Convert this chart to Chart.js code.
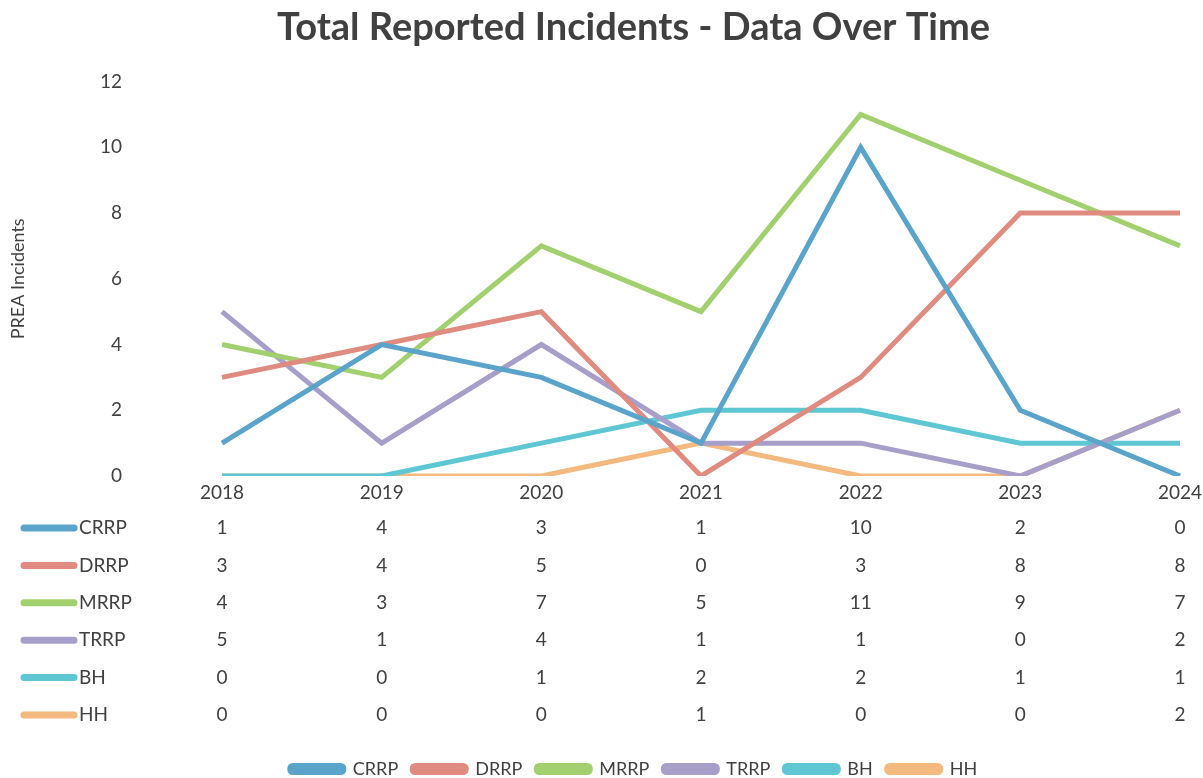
<!DOCTYPE html>
<html>
<head>
<meta charset="utf-8">
<script src="https://cdn.jsdelivr.net/npm/chart.js@4"></script>
<style>
  body { margin: 0; background: #fff; }
  #wrap { width: 1203px; height: 778px; }
</style>
</head>
<body>
<div id="wrap"><canvas id="incidentsChart"></canvas></div>
<script>
const years = ["2018", "2019", "2020", "2021", "2022", "2023", "2024"];
const crrp = [1, 4, 3, 1, 10, 2, 0];
const drrp = [3, 4, 5, 0, 3, 8, 8];
const mrrp = [4, 3, 7, 5, 11, 9, 7];
const trrp = [5, 1, 4, 1, 1, 0, 2];
const bh = [0, 0, 1, 2, 2, 1, 1];
const hh = [0, 0, 0, 1, 0, 0, 2];
const yTicks = [0, 2, 4, 6, 8, 10, 12];

const FONT = "Lato, 'Open Sans', sans-serif";
const TEXT = "#404040";

const series = [
  { label: "CRRP", data: crrp, color: "#5aa3cb" },
  { label: "DRRP", data: drrp, color: "#df8b7f" },
  { label: "MRRP", data: mrrp, color: "#a3d06f" },
  { label: "TRRP", data: trrp, color: "#a79fc9" },
  { label: "BH", data: bh, color: "#5ec7d3" },
  { label: "HH", data: hh, color: "#f4b97e" }
];

// draws the data table under the x axis, one row per series
const dataTable = {
  id: "dataTable",
  afterDraw(chart) {
    const { ctx, chartArea, scales } = chart;
    ctx.save();
    ctx.textBaseline = "middle";
    series.forEach((s, i) => {
      const y = chartArea.bottom + 52 + i * 37.4;
      ctx.strokeStyle = s.color;
      ctx.lineWidth = 7;
      ctx.lineCap = "round";
      ctx.beginPath();
      ctx.moveTo(24, y);
      ctx.lineTo(74, y);
      ctx.stroke();
      ctx.fillStyle = TEXT;
      ctx.font = `19px ${FONT}`;
      ctx.textAlign = "left";
      ctx.fillText(s.label, 79, y);
      ctx.textAlign = "center";
      s.data.forEach((v, j) => {
        ctx.fillText(String(v), scales.x.getPixelForValue(j), y);
      });
    });
    ctx.restore();
  }
};

new Chart(document.getElementById("incidentsChart").getContext("2d"), {
  type: "line",
  data: {
    labels: years,
    datasets: series.map(s => ({
      label: s.label,
      data: s.data,
      borderColor: s.color,
      backgroundColor: s.color,
      borderWidth: 5,
      pointRadius: 0,
      tension: 0
    }))
  },
  options: {
    responsive: true,
    maintainAspectRatio: false,
    animation: false,
    layout: { padding: { left: 64, right: 0, top: 0, bottom: -10 } },
    plugins: {
      title: {
        display: true,
        text: "Total Reported Incidents - Data Over Time",
        color: TEXT,
        font: { family: FONT, size: 38, weight: "bold" },
        padding: { top: 5, bottom: 31 }
      },
      legend: {
        position: "bottom",
        labels: {
          color: TEXT,
          font: { family: FONT, size: 18 },
          boxWidth: 54,
          boxHeight: 7,
          useBorderRadius: true,
          borderRadius: 3,
          padding: 14
        }
      },
      tooltip: { enabled: false }
    },
    scales: {
      x: {
        grid: { display: false, drawTicks: false },
        border: { display: false },
        ticks: { color: TEXT, font: { family: FONT, size: 19 }, maxRotation: 0, padding: 5 },
        afterFit: scale => {
          scale.height = 270;
          scale.paddingRight = 23;
        }
      },
      y: {
        min: 0,
        max: 12,
        afterBuildTicks: scale => { scale.ticks = yTicks.map(v => ({ value: v })); },
        grid: { display: false, drawTicks: false },
        border: { display: false },
        ticks: { color: TEXT, font: { family: FONT, size: 19 }, padding: 100 },
        title: {
          display: true,
          text: "PREA Incidents",
          color: TEXT,
          font: { family: FONT, size: 18 },
          padding: { top: -57, bottom: 0 }
        },
        afterFit: scale => {
          scale.width = 158;
          scale.paddingTop = 0;
          scale.paddingBottom = 0;
        }
      }
    }
  },
  plugins: [dataTable]
});
</script>
</body>
</html>
